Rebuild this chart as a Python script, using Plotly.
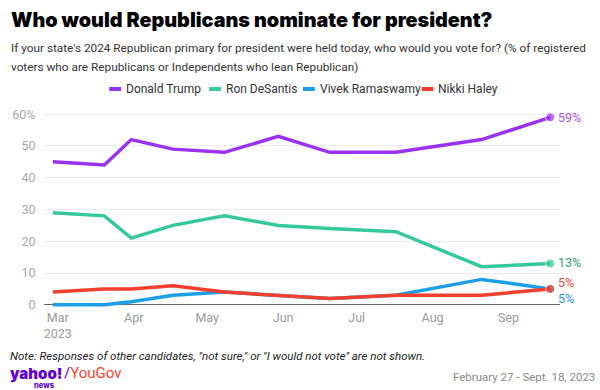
import plotly.graph_objects as go

# ---------------- data ----------------
dates = ["2023-02-27", "2023-03-20", "2023-03-31", "2023-04-17", "2023-05-08",
         "2023-05-30", "2023-06-20", "2023-07-17", "2023-08-21", "2023-09-18"]
trump = [45, 44, 52, 49, 48, 53, 48, 48, 52, 59]
desantis = [29, 28, 21, 25, 28, 25, 24, 23, 12, 13]
ramaswamy = [0, 0, 1, 3, 4, 3, 2, 3, 8, 5]
haley = [4, 5, 5, 6, 4, 3, 2, 3, 3, 5]
series_names = ["Donald Trump", "Ron DeSantis", "Vivek Ramaswamy", "Nikki Haley"]
y_ticks = [0, 10, 20, 30, 40, 50, 60]
y_tick_text = ["0", "10", "20", "30", "40", "50", "60%"]
x_ticks = ["2023-03-01", "2023-04-01", "2023-05-01", "2023-06-01",
           "2023-07-01", "2023-08-01", "2023-09-01"]
x_tick_text = ["Mar<br>2023", "Apr", "May", "Jun", "Jul", "Aug", "Sep"]

# ---------------- style ----------------
W, H = 600, 390
ML, MR, MT, MB = 38, 40, 111, 82
colors = ["#9a32f2", "#35c89b", "#1b9fe6", "#f23f2e"]
label_colors = ["#a64ff5", "#3a9d80", "#1f93e0", "#f0463a"]
label_yshift = [0, 1, -10, 6]
FONT = "Roboto"
TFONT = "Inter"
LX = 3  # left text anchor (px)


def px(x):
    return (x - ML) / (W - ML - MR)


def py(y):
    return (H - MB - y) / (H - MT - MB)


fig = go.Figure()
values = [trump, desantis, ramaswamy, haley]
for name, vals, col in zip(series_names, values, colors):
    n = len(vals)
    fig.add_trace(go.Scatter(
        x=dates, y=vals, name=name, mode="lines+markers",
        line=dict(color=col, width=3.5),
        marker=dict(color=col, size=[0] * (n - 1) + [9]),
        showlegend=False, hoverinfo="skip", cliponaxis=False,
    ))

annotations = []
for vals, lc, ys in zip(values, label_colors, label_yshift):
    annotations.append(dict(
        x=dates[-1], y=vals[-1], xref="x", yref="y", text=f"{vals[-1]}%",
        showarrow=False, xanchor="left", yanchor="middle", xshift=6, yshift=ys,
        font=dict(family=FONT, size=12.5, color=lc),
    ))

annotations.append(dict(
    x=px(LX), y=py(20), xref="paper", yref="paper", xanchor="left", yanchor="middle",
    text="Who would Republicans nominate for president?", showarrow=False,
    font=dict(family=TFONT, size=19.8, color="#000000", weight=900),
))
sub_lines = ["If your state's 2024 Republican primary for president were held today, who would you vote for? (% of registered",
             "voters who are Republicans or Independents who lean Republican)"]
for i, line in enumerate(sub_lines):
    annotations.append(dict(
        x=px(LX), y=py(48 + 19 * i), xref="paper", yref="paper", xanchor="left", yanchor="middle",
        text=line, showarrow=False,
        font=dict(family=FONT, size=11.8, color="#333333"),
    ))

legend_swatch_x = [104, 205, 300, 420]
shapes = []
for name, col, sx in zip(series_names, colors, legend_swatch_x):
    shapes.append(dict(type="line", xref="paper", yref="paper",
                       x0=px(sx), x1=px(sx + 12), y0=py(89), y1=py(89),
                       line=dict(color=col, width=4)))
    annotations.append(dict(
        x=px(sx + 15), y=py(89), xref="paper", yref="paper", xanchor="left", yanchor="middle",
        text=name, showarrow=False, font=dict(family=FONT, size=12, color="#333333"),
    ))

annotations.append(dict(
    x=px(LX), y=py(355.5), xref="paper", yref="paper", xanchor="left", yanchor="middle",
    text="<i>Note: Responses of other candidates, \"not sure,\" or \"I would not vote\" are not shown.</i>",
    showarrow=False, borderpad=0, font=dict(family=FONT, size=11.5, color="#222222"),
))
annotations.append(dict(
    x=px(597), y=py(377), xref="paper", yref="paper", xanchor="right", yanchor="middle",
    text="February 27 - Sept. 18, 2023", showarrow=False,
    font=dict(family=FONT, size=11.5, color="#8a8a8a"),
))
annotations.append(dict(
    x=px(3), y=py(373), xref="paper", yref="paper", xanchor="left", yanchor="middle",
    text="yahoo!", showarrow=False, borderpad=0,
    font=dict(family=TFONT, size=15, color="#6001d2", weight=900),
))
annotations.append(dict(
    x=px(27), y=py(385), xref="paper", yref="paper", xanchor="left", yanchor="middle",
    text="news", showarrow=False, borderpad=0,
    font=dict(family=TFONT, size=7.5, color="#6001d2", weight=800),
))
annotations.append(dict(
    x=px(57), y=py(373), xref="paper", yref="paper", xanchor="left", yanchor="middle",
    text="<span style='color:#6001d2'>/</span>YouGov", showarrow=False, borderpad=0,
    font=dict(family=FONT, size=15, color="#ff412c"),
))

fig.update_layout(
    width=W, height=H,
    margin=dict(l=ML, r=MR, t=MT, b=MB, pad=0),
    paper_bgcolor="white", plot_bgcolor="white",
    showlegend=False,
    annotations=annotations, shapes=shapes,
    font=dict(family=FONT, color="#999999", size=12.5),
    xaxis=dict(
        type="date", range=["2023-02-23 09:00", "2023-09-22"],
        tickmode="array", tickvals=x_ticks, ticktext=x_tick_text,
        showgrid=False, zeroline=False,
        showline=False, ticks="",
        tickfont=dict(size=12.5, color="#9a9a9a"),
    ),
    yaxis=dict(
        range=[-1, 61], tickvals=y_ticks, ticktext=y_tick_text,
        showgrid=True, gridcolor="#ebebeb", gridwidth=1,
        zeroline=True, zerolinecolor="#666666", zerolinewidth=1,
        showline=False, ticks="outside", ticklen=5, tickcolor="rgba(0,0,0,0)",
        tickfont=dict(size=12.5, color="#a8a8a8"),
    ),
)

fig.write_html("out.html", config={"displayModeBar": False},
               post_script="document.body.style.margin='0';")
